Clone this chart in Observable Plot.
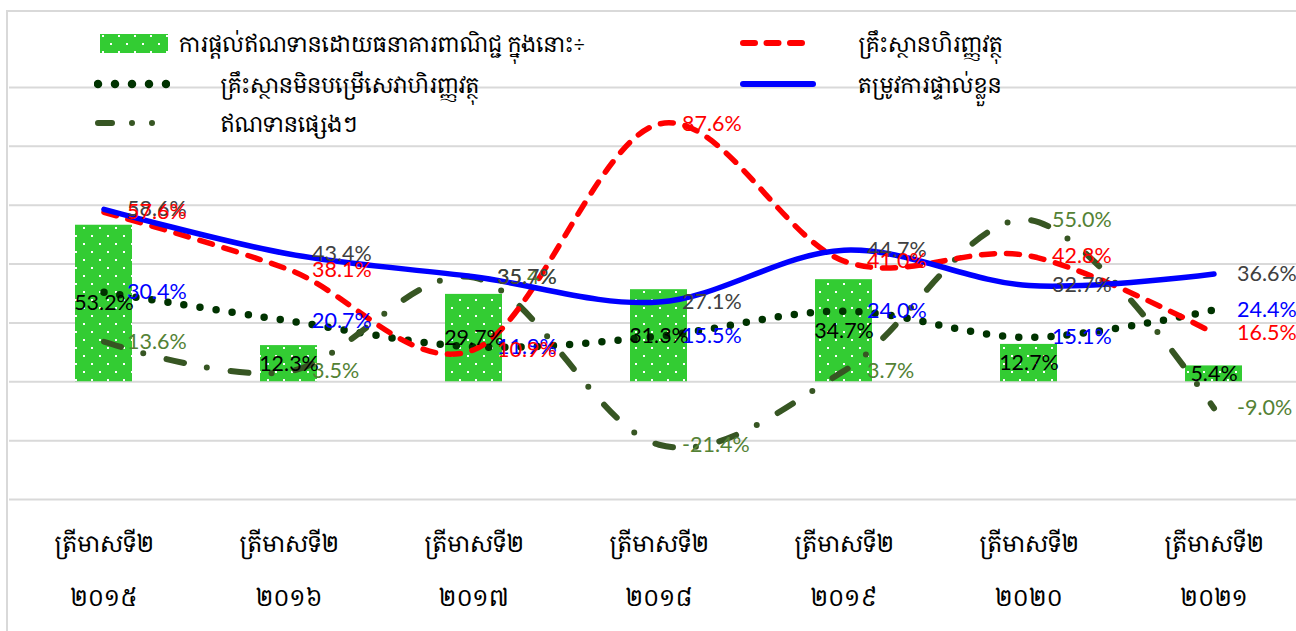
<!DOCTYPE html>
<html>
<head>
<meta charset="utf-8">
<script src="https://cdn.jsdelivr.net/npm/d3@7"></script>
<script src="https://cdn.jsdelivr.net/npm/@observablehq/plot@0.6"></script>
<style>
  body { margin: 0; background: #fff; overflow: hidden; }
  #wrap { position: relative; width: 1296px; height: 631px; overflow: hidden; background: #fff;
          font-family: "Khmer OS Siemreap", "Khmer OS", "Noto Serif Khmer", "Noto Sans Khmer", "Noto Sans", sans-serif; }
  #frame { position: absolute; left: 6px; top: 10px; width: 1320px; height: 660px;
           border-left: 2px solid #d9d9d9; border-top: 2px solid #d9d9d9; box-sizing: border-box; }
  #chart { position: absolute; left: 0; top: 0; }
  .leg { position: absolute; display: flex; align-items: center; font-size: 21.5px; color: #000; white-space: nowrap; }
  .leg svg { display: block; }
</style>
</head>
<body>
<div id="wrap">
  <div id="frame"></div>
  <div id="chart"></div>
  <div id="legend"></div>
</div>
<script>
// ---- data ----
const periods = ["2015", "2016", "2017", "2018", "2019", "2020", "2021"];
const periodQuarter = "ត្រីមាសទី២";
const periodYears = ["២០១៥", "២០១៦", "២០១៧", "២០១៨", "២០១៩", "២០២០", "២០២១"];

const bankCredit       = [53.2, 12.3, 29.7, 31.3, 34.7, 12.7, 5.4];   // bars
const financialInst    = [57.6, 38.1, 10.9, 87.6, 41.0, 42.8, 16.5];  // red dashed
const nonFinancialInst = [30.4, 20.7, 11.9, 15.5, 24.0, 15.1, 24.4];  // dark green dotted
const personalNeeds    = [58.6, 43.4, 35.7, 27.1, 44.7, 32.7, 36.6];  // blue solid
const otherCredit      = [13.6, 3.5, 35.4, -21.4, 3.7, 55.0, -9.0];   // dash-dot

const seriesNames = {
  bank: "ការផ្តល់ឥណទានដោយធនាគារពាណិជ្ជ  ក្នុងនោះ÷",
  nonfin: "គ្រឹះស្ថានមិនបម្រើសេវាហិរញ្ញវត្ថុ",
  other: "ឥណទានផ្សេងៗ",
  fin: "គ្រឹះស្ថានហិរញ្ញវត្ថុ",
  personal: "តម្រូវការផ្ទាល់ខ្លួន"
};
const yTicks = [-40, -20, 0, 20, 40, 60, 80, 100];

// ---- table ----
const rows = periods.map((p, i) => ({
  p, year: periodYears[i],
  bank: bankCredit[i], fin: financialInst[i], nonfin: nonFinancialInst[i],
  personal: personalNeeds[i], other: otherCredit[i]
}));

const pct = v => v.toFixed(1) + "%";
const labelFont = "Lato, Carlito, 'Liberation Sans', sans-serif";
const khmerFont = "'Khmer OS Siemreap', 'Khmer OS', 'Noto Serif Khmer', 'Noto Sans Khmer', 'Noto Sans', sans-serif";
const curve = "cardinal";
const labelSize = 21.5;

const lineLabel = (key, color) => Plot.text(rows, {
  x: "p", y: key, text: d => pct(d[key]), dx: 23, textAnchor: "start",
  fill: color, fontSize: labelSize, fontFamily: labelFont
});

const chart = Plot.plot({
  width: 1296, height: 631,
  marginTop: 87, marginBottom: 132, marginLeft: 9, marginRight: 0,
  x: { domain: periods, range: [9.2, 1308.8], padding: 0, axis: null },
  y: { domain: [-40, 100], axis: null },
  style: { background: "transparent", overflow: "visible" },
  marks: [
    Plot.ruleY(yTicks, { stroke: "#d9d9d9", strokeWidth: 2 }),
    Plot.barY(rows, { x: "p", y: "bank", fill: "url(#dots)", insetLeft: 64, insetRight: 64 }),
    Plot.line(rows, { x: "p", y: "nonfin", curve, tension: 0, stroke: "#003300", strokeWidth: 7.5,
      strokeDasharray: "0 16.2", strokeLinecap: "round" }),
    Plot.line(rows, { x: "p", y: "other", curve, tension: 0, stroke: "#375623", strokeWidth: 6,
      strokeDasharray: "18 23 0 24", strokeLinecap: "round" }),
    Plot.line(rows, { x: "p", y: "fin", curve, tension: 0, stroke: "#ff0000", strokeWidth: 5.5,
      strokeDasharray: "13 12", strokeLinecap: "round" }),
    Plot.line(rows, { x: "p", y: "personal", curve, tension: 0, stroke: "#0000ff", strokeWidth: 5.5,
      strokeLinecap: "round" }),
    Plot.text(rows, { x: "p", y: d => d.bank / 2, text: d => pct(d.bank), fill: "#000",
      fontSize: labelSize, fontFamily: labelFont }),
    lineLabel("other", "#548235"),
    lineLabel("nonfin", "#0000ff"),
    lineLabel("personal", "#404040"),
    lineLabel("fin", "#ff0000"),
    Plot.text(rows, { x: "p", text: () => periodQuarter, frameAnchor: "bottom", dy: 52,
      fontSize: 23, fill: "#000", fontFamily: khmerFont }),
    Plot.text(rows, { x: "p", text: "year", frameAnchor: "bottom", dy: 106,
      fontSize: 23, fill: "#000", fontFamily: khmerFont })
  ]
});

const ns = "http://www.w3.org/2000/svg";
const defs = document.createElementNS(ns, "defs");
defs.innerHTML = '<pattern id="dots" patternUnits="userSpaceOnUse" width="16" height="16">' +
  '<rect width="16" height="16" fill="#33cc33"/>' +
  '<rect x="3" y="3" width="2" height="2" fill="#ffffff"/>' +
  '<rect x="11" y="11" width="2" height="2" fill="#ffffff"/></pattern>';
chart.insertBefore(defs, chart.firstChild);
document.getElementById("chart").appendChild(chart);

// ---- legend ----
const swatches = {
  bank: '<svg width="70" height="22"><rect x="1" y="2" width="68" height="19" fill="url(#dots)"/></svg>',
  nonfin: '<svg width="76" height="14"><line x1="4" y1="7" x2="73" y2="7" stroke="#003300" stroke-width="8.5" stroke-linecap="round" stroke-dasharray="0 17"/></svg>',
  other: '<svg width="76" height="14"><line x1="4" y1="7" x2="72" y2="7" stroke="#375623" stroke-width="6" stroke-linecap="round" stroke-dasharray="14 20 0 20 0 40"/></svg>',
  fin: '<svg width="70" height="14"><line x1="3" y1="7" x2="66" y2="7" stroke="#ff0000" stroke-width="6" stroke-linecap="round" stroke-dasharray="12 11.5"/></svg>',
  personal: '<svg width="76" height="14"><line x1="3" y1="7" x2="73" y2="7" stroke="#0000ff" stroke-width="6" stroke-linecap="round"/></svg>'
};
const legendItems = [
  { key: "bank", left: 99, top: 43, gap: 10 },
  { key: "nonfin", left: 94, top: 84, gap: 50 },
  { key: "other", left: 94, top: 123, gap: 50 },
  { key: "fin", left: 740, top: 43, gap: 48 },
  { key: "personal", left: 740, top: 84, gap: 42 }
];
const legend = document.getElementById("legend");
legendItems.forEach(it => {
  const div = document.createElement("div");
  div.className = "leg";
  div.style.left = it.left + "px";
  div.style.top = (it.top - 16) + "px";
  div.style.height = "32px";
  div.innerHTML = swatches[it.key] + '<span style="margin-left:' + it.gap + 'px">' + seriesNames[it.key] + '</span>';
  legend.appendChild(div);
});
</script>
</body>
</html>
